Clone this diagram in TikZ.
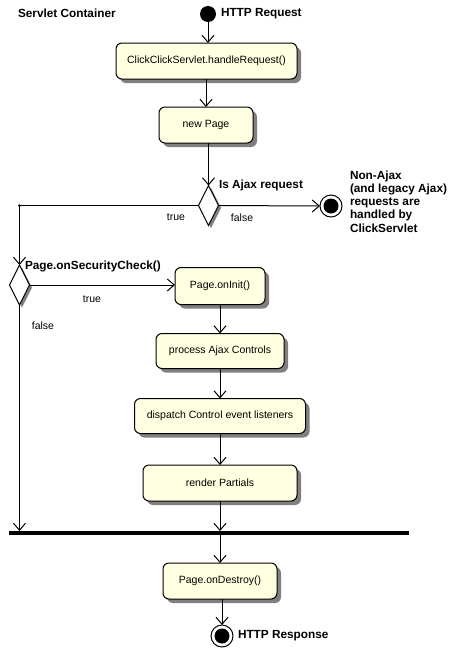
\documentclass[tikz,border=0pt]{standalone}
\usepackage{fontspec}
\setmainfont{Liberation Sans}
\usetikzlibrary{arrows.meta,shapes.geometric,shadows,calc}
\definecolor{actfill}{RGB}{255,255,225}
\definecolor{shade}{RGB}{128,128,128}
\begin{document}
\begin{tikzpicture}[x=1pt,y=-1pt,
  every node/.style={inner sep=0pt,outer sep=0pt},
  normtext/.style={font=\fontsize{10.5}{12}\selectfont},
  boldtext/.style={font=\fontsize{11.8}{13.3}\selectfont\bfseries},
  activity/.style={draw,line width=1pt,rounded corners=6pt,fill=actfill,
    normtext,align=center,
    general shadow={fill=shade,shadow xshift=4pt,shadow yshift=-4pt}},
  decision/.style={diamond,draw,line width=1pt,fill=white,minimum width=20pt,
    minimum height=40pt,
    general shadow={fill=shade,shadow xshift=2.5pt,shadow yshift=-2.5pt}},
  flow/.style={line width=1pt,-{Straight Barb[length=7pt,width=12pt,line width=1pt]}},
  plain/.style={line width=1pt}]
\useasboundingbox (0,0) rectangle (466,659);

% texts
\node[boldtext,anchor=west] (title) at (18,13) {Servlet Container};

% start
\node[circle,fill=black,minimum size=16pt] (start) at (208,14) {};
\node[boldtext,anchor=west] (reqlbl) at (221,14) {HTTP Request};

% activities
\node[activity,minimum width=181pt,minimum height=36pt] (handle) at (206.5,61) {ClickClickServlet.handleRequest()};
\node[activity,minimum width=94pt,minimum height=36pt] (newpage) at (206,125) {new Page};

% decision 1
\node[decision] (d1) at (208.5,205.5) {};
\node[boldtext,anchor=west] (d1lbl) at (219,185) {Is Ajax request};
\node[normtext] (d1true) at (176,217) {true};
\node[normtext] (d1false) at (242,218) {false};

% final for non-ajax
\node[circle,draw,line width=1pt,fill=white,minimum size=22pt] (fin1) at (331,206) {};
\node[circle,fill=black,minimum size=15pt] (fin1in) at (fin1) {};
\node[boldtext,anchor=north west,align=left] (nonajax) at (350,170.5)
  {Non-Ajax\\(and legacy Ajax)\\requests are\\handled by\\ClickServlet};

% decision 2
\coordinate (junc) at (19.5,205.5);
\node[decision] (d2) at (19.5,285) {};
\node[boldtext,anchor=west] (d2lbl) at (25,266) {Page.onSecurityCheck()};
\node[normtext] (d2true) at (92,299) {true};
\node[normtext] (d2false) at (43,326) {false};

% ajax path
\node[activity,minimum width=90pt,minimum height=37pt] (oninit) at (220,286) {Page.onInit()};
\node[activity,minimum width=128pt,minimum height=35pt] (process) at (220,351) {process Ajax Controls};
\node[activity,minimum width=171pt,minimum height=35pt] (dispatch) at (220,416) {dispatch Control event listeners};
\node[activity,minimum width=154pt,minimum height=36pt] (render) at (220,483) {render Partials};

% join bar
\node[fill=black,minimum width=400pt,minimum height=4pt] (bar) at (209,533) {};

\node[activity,minimum width=114pt,minimum height=36pt] (ondestroy) at (220,581) {Page.onDestroy()};

% end
\node[circle,draw,line width=1pt,fill=white,minimum size=22pt] (fin2) at (222,636) {};
\node[circle,fill=black,minimum size=15pt] (fin2in) at (fin2) {};
\node[boldtext,anchor=west] (resplbl) at (238,636) {HTTP Response};

% connectors
\draw[flow] (start) -- (start |- handle.north);
\draw[flow] (handle.south -| newpage) -- (newpage.north);
\draw[flow] (newpage.south -| d1) -- (d1.north);
\draw[plain] (d1.west) -- (junc);
\fill (junc) circle (1.5pt);
\draw[flow] (junc) -- (d2.north);
\draw[flow] (d1.east) -- (fin1.west);
\draw[flow] (d2.east) -- (oninit.west |- d2.east);
\draw[flow] (d2.south) -- (d2 |- bar.north);
\draw[flow] (oninit.south) -- (process.north);
\draw[flow] (process.south) -- (dispatch.north);
\draw[flow] (dispatch.south) -- (render.north);
\draw[flow] (render.south) -- (render |- bar.north);
\draw[flow] (bar.south -| ondestroy) -- (ondestroy.north);
\draw[flow] (ondestroy.south -| fin2) -- (fin2.north);
\end{tikzpicture}
\end{document}
